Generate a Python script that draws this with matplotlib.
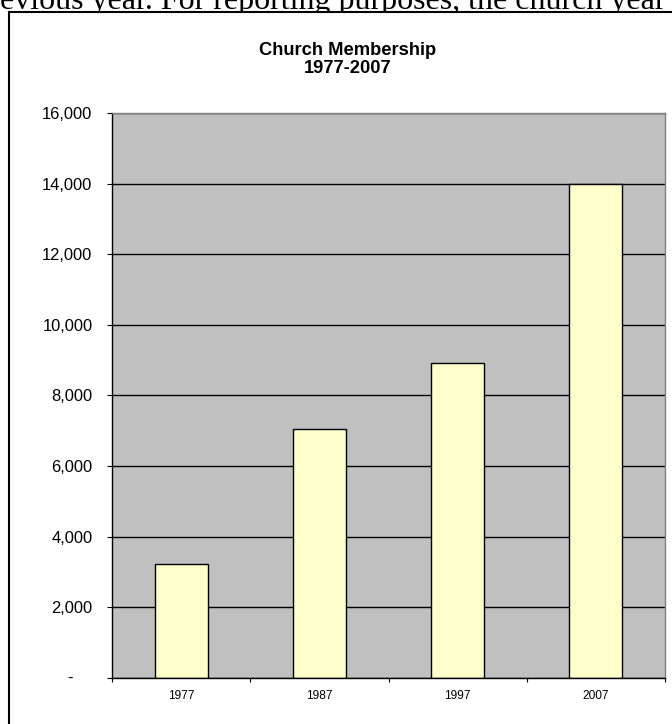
import matplotlib.pyplot as plt
from matplotlib.patches import Rectangle
from matplotlib.ticker import FixedLocator

years = ['1977', '1987', '1997', '2007']
members = [3230, 7050, 8920, 14000]
y_ticks = [0, 2000, 4000, 6000, 8000, 10000, 12000, 14000, 16000]
y_labels = ['', '2,000', '4,000', '6,000', '8,000', '10,000', '12,000', '14,000', '16,000']
title = 'Church Membership\n1977-2007'
page_text = 'evious year. For reporting purposes, the church year'

W, H = 672, 724
fig = plt.figure(figsize=(W / 100, H / 100), dpi=100)


def px(x, y):
    # pixel coords measured from the top-left -> figure fraction
    return x / W, 1 - y / H


# text of the page behind the pasted chart
fig.text(*px(0, 9), page_text, family='Liberation Serif', fontsize=23,
         ha='left', va='baseline', color='black', zorder=0)

# chart area box
x0, y0 = px(8.5, 12)
fig.patches.append(Rectangle((x0, -0.1), 1.2, y0 + 0.1, transform=fig.transFigure,
                             facecolor='white', edgecolor='black', linewidth=1.5, zorder=1))

fig.text(*px(348, 59.5), title, family='Liberation Sans', fontsize=13.2, fontweight='bold',
         ha='center', va='center', multialignment='center', linespacing=1.15, zorder=3)

left, top = px(112, 113)
right, bottom = px(665, 678)
ax = fig.add_axes([left, bottom, right - left, top - bottom], zorder=2)
ax.set_facecolor('#C0C0C0')

pos = list(range(len(years)))
ax.bar(pos, members, width=0.385, color='#FFFFCC', edgecolor='black', linewidth=1.0, zorder=2)

ax.set_xlim(-0.5, len(years) - 0.5)
ax.set_ylim(0, 16000)

ax.set_yticks(y_ticks)
ax.set_yticklabels(y_labels, family='Liberation Sans', fontsize=11.9)
ax.tick_params(axis='y', direction='out', length=3.6, width=0.8, pad=10.5, colors='black')
ax.yaxis.grid(True, color='black', linewidth=1.0)
ax.set_axisbelow(True)

# zero label shown as a dash (accounting format)
ax.annotate('-', xy=(0, 0), xycoords=('axes fraction', 'data'), xytext=(-42, 0),
            textcoords='offset pixels', ha='center', va='center',
            family='Liberation Sans', fontsize=11.9)

# ticks between categories, labels at category centres
ax.xaxis.set_major_locator(FixedLocator([p - 0.5 for p in pos] + [pos[-1] + 0.5]))
ax.xaxis.set_minor_locator(FixedLocator(pos))
ax.set_xticklabels([], minor=False)
ax.set_xticklabels(years, minor=True, family='Liberation Sans', fontsize=8.6)
ax.tick_params(axis='x', which='major', direction='out', length=3, width=0.8)
ax.tick_params(axis='x', which='minor', length=0, pad=8.5)

for side in ['left', 'bottom']:
    ax.spines[side].set_color('black')
    ax.spines[side].set_linewidth(1.0)
for side in ['top', 'right']:
    ax.spines[side].set_color('#808080')
    ax.spines[side].set_linewidth(1.0)

plt.savefig('out.png', dpi=100)
